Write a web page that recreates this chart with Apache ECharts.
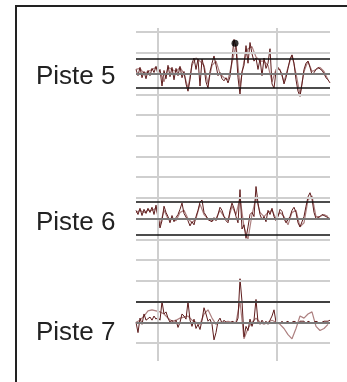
<!DOCTYPE html>
<html><head><meta charset="utf-8">
<script src="https://cdn.jsdelivr.net/npm/echarts@6/dist/echarts.min.js"></script>
<style>html,body{margin:0;padding:0;background:#fff}#c{width:347px;height:382px}</style>
</head><body><div id="c"></div>
<script>
// Track names
const tracks = ['Piste 5', 'Piste 6', 'Piste 7'];
// Deviations (grid step = 10 units), dark trace, 98 samples
const piste5Dark = [2,-1,3,-2,1,-2.5,1.5,-1,2.5,0.5,3.5,-0.5,2,-6,1.5,-2.5,4,-1.5,3,-3,2.5,-1,3.5,-2,1,-5,-8.5,-3,5,7.5,2,7,-6,7,3,-4,-7,1,5,8.5,4,-1,0.5,-2.5,-3.5,-2,-4.5,-1.5,7,16.5,12.5,-2,-10,1,4,13.5,5,15,9.5,6,7.5,2,7,-1,7.5,2.5,5,12,-5,-7,1,3,1.5,-0.5,-5,-2,2.5,7,9,5,-3,-8.5,-11,-5,2,5,6,3,-0.5,0.5,2,3,2.5,1.5,0,-2,-3,-4.5];
const piste5Light = [2,2.5,0,1,2,3,1,-4,3,2,1,3,0,-7,4,7.5,6,4,-5,4,6,0,-2,-3,5,14,-6,6,12,13,8,6,6,4,-4,2,2,-4,3,9,0,-10,1,6,1,2,3,1,-3];
const piste6Dark = [4,2,5,1.5,4.5,2.5,5,3,5.5,2,6.5,1,-4.5,-1,6,3,1,-2,1.5,-1.5,0.5,2,4.5,7.5,2.5,3,-1,-3.5,-1.5,-3,1,4,8,9,3,1.5,-0.5,0,-1.5,0.5,-1,2,5.5,4,1,-1,-2,4,7.5,5,1,-2,14,-5,-3,-9.5,-4,2,3,1,15.5,7.5,2,-0.5,1,-1.5,4,2,5,1,-1,1,4.5,3.5,0,-2,-2.5,1,4,5.5,3,-2,-4,-3.5,1,6,10.5,12.5,9.5,3,0,-0.5,1,2,1.5,1,0.5,0];
const piste6Light = [3,4,3,4,4,5,-3,4,0,0,-1,3,4,0,-2,0,7,2,0,-1,0,4,1,-1,6,2,10,-4,-10,2,10,3,1,3,4,0,3,1,-3,3,4,-4,-2,9,11,1,1,2,1];
const piste7Dark = [0,-5,2,-1,4,1,1.5,2.5,1,3,1.5,2.5,1,10,4,5,2,0,1,-0.5,1,-2.5,0,4,3,1.5,10,1,-2,1.5,-3,-1,-3.5,1,7,4,0.5,1.5,-1,-8.5,-5,0.5,2,-0.5,1,0,0.5,-0.5,0.5,0,-0.5,2,21,10,-7,-2,-4,1.5,-2,1,11,0,-1,1,-0.5,0.5,-1,1,3,6,0,0.5,-0.5,0.5,-0.5,0,0.5,-0.5,0,0.5,0,-0.5,0.5,0,0.5,-0.5,0.5,0,-0.5,0,0.5,0,-0.5,0,0.5,0,0.5,1];
const piste7Light = [0,1,3,5.5,6,5.5,5,4,2,0.5,1,2,2.5,3,1,0,-1,4,6,2,-1,0,0,0.5,0,0,10,-8,-3,0,2,0,-1,0,1,0,-1,-3,-6,-8,-3,3,2,4,5,-2,-4,-3,-1];
// Peak marker on Piste 5 (sample index, deviation)
const peak5 = [49.5, 14.7];
// Tolerance bands per track: [upper, lower] deviations (null = none)
const bands = [[7, -7], [8, -8], [10, null]];
// Horizontal reference grid values and vertical markers (sample index)
const gridValues = [0,10,20,30,40,50,60,70,80,90,100,110,120,130,140,150];
const vMarks = [11, 70.5];

// layout: baseline of each track on the shared value axis
const centers = [130, 60, 10];
const darkC = '#5e1c1c', lightC = '#ad8080';

function toPts(arr, base, step) { return arr.map((v, i) => [i * step, v + base]); }
const darkArrs = [piste5Dark, piste6Dark, piste7Dark];
const lightArrs = [piste5Light, piste6Light, piste7Light];

const series = [];
series.push({
  type: 'line', data: [], silent: true,
  markLine: {
    silent: true, symbol: 'none', label: {show: false},
    lineStyle: {color: '#cfcfcf', width: 2, type: 'solid'},
    data: gridValues.map(v => ({yAxis: v})).concat(vMarks.map(x => ({xAxis: x})))
  }, z: 1
});
const refLines = [];
centers.forEach((c, k) => {
  refLines.push({yAxis: c, lineStyle: {color: '#7a7a7a', width: 2}});
  if (bands[k][0] !== null) refLines.push({yAxis: c + bands[k][0], lineStyle: {color: '#111', width: 1.5}});
  if (bands[k][1] !== null) refLines.push({yAxis: c + bands[k][1], lineStyle: {color: '#111', width: 1.5}});
});
series.push({type: 'line', data: [], silent: true, z: 2,
  markLine: {silent: true, symbol: 'none', label: {show: false}, lineStyle: {type: 'solid'}, data: refLines}});
centers.forEach((c, k) => {
  const la = lightArrs[k], da = darkArrs[k];
  series.push({type: 'line', data: toPts(la, c, 96 / (la.length - 1)), showSymbol: false, silent: true,
    lineStyle: {color: lightC, width: 1.2}, z: 3, animation: false});
  series.push({type: 'line', data: toPts(da, c, 97 / (da.length - 1)), showSymbol: false, silent: true,
    lineStyle: {color: darkC, width: 1}, z: 4, animation: false});
});
series.push({type: 'scatter', data: [[peak5[0], peak5[1] + centers[0]]], symbolSize: 7,
  itemStyle: {color: '#000'}, z: 5, silent: true});

const fontFam = '"Liberation Sans", Arial, sans-serif';
const labelY = [77, 223, 333];
const chart = echarts.init(document.getElementById('c'), null, {renderer: 'canvas'});
chart.setOption({
  animation: false,
  backgroundColor: '#fff',
  grid: {left: 136, right: 17, top: 28, bottom: 21},
  xAxis: {type: 'value', min: 0, max: 97, show: false, splitLine: {show: false}},
  yAxis: {type: 'value', min: -8.7, max: 152, show: false, splitLine: {show: false}},
  series: series,
  graphic: [
    {type: 'rect', shape: {x: 16, y: 6, width: 400, height: 420},
      style: {fill: 'none', stroke: '#222', lineWidth: 2}, z: 10}
  ].concat(tracks.map((t, k) => ({
    type: 'text', x: 36, y: labelY[k], z: 10,
    style: {text: t, font: '26px ' + fontFam, fill: '#222', textVerticalAlign: 'middle', verticalAlign: 'middle'}
  })))
});
</script></body></html>
